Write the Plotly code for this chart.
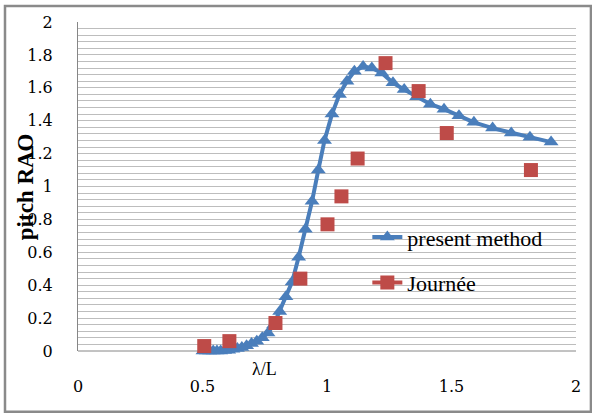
import plotly.graph_objects as go

# Pitch response amplitude operator versus wavelength ratio
present_x = [0.502, 0.515, 0.529, 0.543, 0.558, 0.573, 0.589, 0.605, 0.622, 0.640,
             0.658, 0.677, 0.697, 0.718, 0.740, 0.763, 0.786, 0.810, 0.835, 0.860,
             0.886, 0.913, 0.940, 0.965, 0.990, 1.020, 1.050, 1.080, 1.110, 1.145,
             1.180, 1.220, 1.265, 1.310, 1.360, 1.415, 1.470, 1.530, 1.590, 1.665,
             1.740, 1.815, 1.900]
present_y = [0.000, 0.000, 0.000, 0.000, 0.000, 0.000, 0.003, 0.005, 0.010, 0.015,
             0.022, 0.032, 0.045, 0.060, 0.080, 0.110, 0.160, 0.240, 0.330, 0.420,
             0.570, 0.740, 0.910, 1.100, 1.280, 1.440, 1.560, 1.640, 1.700, 1.730,
             1.720, 1.690, 1.630, 1.590, 1.545, 1.500, 1.470, 1.430, 1.390, 1.355,
             1.325, 1.300, 1.270]

journee_x = [0.507, 0.608, 0.793, 0.893, 1.002, 1.058, 1.123, 1.235, 1.368, 1.481, 1.819]
journee_y = [0.03, 0.06, 0.17, 0.44, 0.77, 0.94, 1.17, 1.75, 1.58, 1.325, 1.10]

x_ticks = [0, 0.5, 1, 1.5, 2]
x_tick_text = ["0", "0.5", "1", "1.5", "2"]
y_ticks = [0, 0.2, 0.4, 0.6, 0.8, 1, 1.2, 1.4, 1.6, 1.8, 2]
y_tick_text = ["0", "0.2", "0.4", "0.6", "0.8", "1", "1.2", "1.4", "1.6", "1.8", "2"]

BLUE = "#4a7ebb"
RED = "#be4b48"
SERIF = "Liberation Serif"
TICK_FONT = "DejaVu Serif"

# Separate the Journée points with gaps so no segments join them,
# while the legend still shows the line sample with its marker.
jx, jy = [], []
for xv, yv in zip(journee_x, journee_y):
    jx += [xv, None]
    jy += [yv, None]

fig = go.Figure()
fig.add_trace(go.Scatter(
    x=present_x, y=present_y, name="present method",
    mode="lines+markers", legendgroup="a",
    line=dict(color=BLUE, width=4),
    marker=dict(symbol="triangle-up", size=13, color=BLUE),
    cliponaxis=False,
))
fig.add_trace(go.Scatter(
    x=jx, y=jy, name="Journée",
    mode="lines+markers", legendgroup="b", connectgaps=False,
    line=dict(color=RED, width=4),
    marker=dict(symbol="square", size=14, color=RED),
    cliponaxis=False,
))

fig.update_layout(
    width=592, height=414,
    margin=dict(l=78, r=16, t=22, b=63),
    paper_bgcolor="white", plot_bgcolor="white",
    font=dict(family=SERIF, size=18, color="#000000"),
    showlegend=True,
    legend=dict(
        x=0.581, y=0.41, xanchor="left", yanchor="top",
        bgcolor="rgba(0,0,0,0)", font=dict(family=SERIF, size=22),
        tracegroupgap=14,
    ),
    xaxis=dict(
        range=[0, 2], tickvals=x_ticks, ticktext=x_tick_text,
        tickfont=dict(family=TICK_FONT, size=16),
        showgrid=False, zeroline=False, showline=False,
        ticks="", ticklabelstandoff=24,
    ),
    yaxis=dict(
        range=[0, 2], tickvals=y_ticks, ticktext=y_tick_text,
        tickfont=dict(family=TICK_FONT, size=16),
        showgrid=True, gridcolor="#bdbdbd", gridwidth=1,
        minor=dict(dtick=0.04, tick0=0, showgrid=True, gridcolor="#bdbdbd", gridwidth=1),
        zeroline=False, showline=True, linecolor="#868686", linewidth=1,
        ticks="", ticklabelstandoff=21,
    ),
    annotations=[
        dict(text="<b>pitch RAO</b>", xref="paper", yref="paper", x=-0.104, y=0.4985,
             textangle=-90, showarrow=False, font=dict(family=SERIF, size=23, color="#000"),
             xanchor="center", yanchor="middle"),
        dict(text="λ/L", xref="paper", yref="paper", x=0.3735, y=-0.0547,
             showarrow=False, font=dict(family=SERIF, size=18, color="#000"),
             xanchor="center", yanchor="middle"),
    ],
    shapes=[
        # bottom border of the plotting area
        dict(type="line", xref="paper", yref="paper", x0=0, x1=1, y0=0, y1=0,
             line=dict(color="#868686", width=1), layer="below"),
        # frame around the whole chart
        dict(type="rect", xref="paper", yref="paper", x0=-0.1466, x1=1.03, y0=-0.185, y1=1.0486,
             line=dict(color="#8a8a8a", width=2.5), layer="below"),
    ],
)

fig.write_html("out.html")
